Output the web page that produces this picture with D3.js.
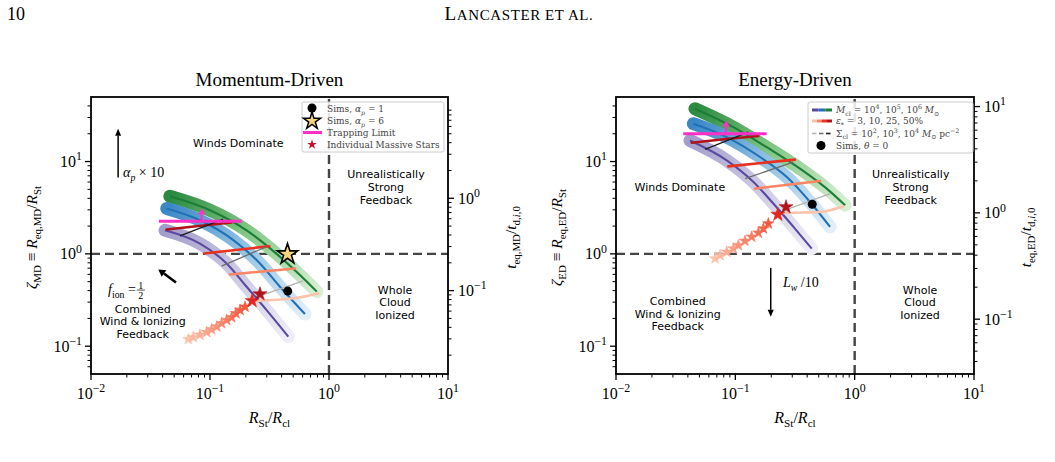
<!DOCTYPE html>
<html><head><meta charset="utf-8">
<script src="https://cdn.jsdelivr.net/npm/d3@7"></script>
<style>body{margin:0;background:#fff}svg{display:block}</style>
</head><body>
<script>
// ---------------- DATA ----------------
const xTicks = [0.01, 0.1, 1, 10];
const xTickExp = ["\u22122", "\u22121", "0", "1"];
const yTicks = [0.1, 1, 10];
const yTickExp = ["\u22121", "0", "1"];
const mdRightTicks = [0.1, 1];
const mdRightExp = ["\u22121", "0"];
const edRightTicks = [0.1, 1, 10];
const edRightExp = ["\u22121", "0", "1"];

// Momentum-driven: mass tracks (R_St/R_cl , zeta_MD)
const md_M4_x = [0.0419, 0.0824, 0.138, 0.203, 0.299, 0.455];
const md_M4_y = [1.80, 1.29, 0.787, 0.44, 0.246, 0.127];
const md_M5_x = [0.0433, 0.0824, 0.157, 0.263, 0.387, 0.628];
const md_M5_y = [3.1, 2.31, 1.41, 0.787, 0.44, 0.223];
const md_M6_x = [0.046, 0.1, 0.203, 0.363, 0.57, 0.79];
const md_M6_y = [4.2, 2.97, 1.80, 1.0, 0.59, 0.39];
// constant star-formation efficiency lines (3,10,25,50%)
const md_eps3_x = [0.246, 0.501, 0.813];   const md_eps3_y = [0.310, 0.33, 0.373];
const md_eps10_x = [0.147, 0.518];         const md_eps10_y = [0.599, 0.695];
const md_eps25_x = [0.0891, 0.315];        const md_eps25_y = [1.01, 1.21];
const md_eps50_x = [0.0432, 0.08, 0.152];  const md_eps50_y = [1.84, 2.0, 2.19];
// constant surface density lines
const md_sigA_x = [0.056, 0.129];  const md_sigA_y = [1.57, 2.38];
const md_sigB_x = [0.125, 0.296];  const md_sigB_y = [0.736, 1.19];
const md_sigC_x = [0.274, 0.608];  const md_sigC_y = [0.358, 0.511];
// trapping limit
const md_trap_x = [0.0372, 0.1845]; const md_trap_y = [2.26, 2.26];
const md_trapArrow_x = [0.0851, 0.0851]; const md_trapArrow_y = [2.26, 3.1];
// sims
const md_sim1 = [0.45, 0.395];
const md_sim6 = [0.448, 0.993];
// individual massive stars
const md_star_x = [0.0658, 0.0724, 0.0824, 0.0938, 0.103, 0.114, 0.125, 0.138, 0.152, 0.165, 0.179, 0.197, 0.226, 0.263];
const md_star_y = [0.119, 0.125, 0.133, 0.142, 0.152, 0.163, 0.177, 0.192, 0.205, 0.227, 0.246, 0.267, 0.310, 0.367];

// Energy-driven
const ed_M4_x = [0.0417, 0.0847, 0.142, 0.208, 0.307, 0.437];
const ed_M4_y = [16.9, 10.3, 6.0, 3.51, 1.96, 1.14];
const ed_M5_x = [0.0445, 0.0847, 0.161, 0.27, 0.423, 0.622];
const ed_M5_y = [25.7, 18.4, 11.2, 6.8, 3.65, 1.96];
const ed_M6_x = [0.0459, 0.0962, 0.183, 0.348, 0.583, 0.832];
const ed_M6_y = [37.3, 23.6, 14.3, 8.38, 5.09, 3.36];
const ed_eps3_x = [0.252, 0.513, 0.803];   const ed_eps3_y = [2.78, 2.84, 3.28];
const ed_eps10_x = [0.146, 0.513];         const ed_eps10_y = [5.09, 6.15];
const ed_eps25_x = [0.0873, 0.316];        const ed_eps25_y = [8.87, 10.5];
const ed_eps50_x = [0.0431, 0.08, 0.156];  const ed_eps50_y = [16.0, 17.4, 18.9];
const ed_sigA_x = [0.0557, 0.1285]; const ed_sigA_y = [13.55, 20.8];
const ed_sigB_x = [0.1205, 0.306];  const ed_sigB_y = [6.53, 9.88];
const ed_sigC_x = [0.261, 0.622];   const ed_sigC_y = [2.97, 4.5];
const ed_trap_x = [0.0366, 0.183]; const ed_trap_y = [20.0, 20.0];
const ed_trapArrow_x = [0.0836, 0.0836]; const ed_trapArrow_y = [20.0, 27.9];
const ed_sim0 = [0.441, 3.45];
const ed_star_x = [0.0676, 0.0745, 0.0847, 0.0962, 0.106, 0.1205, 0.137, 0.156, 0.172, 0.189, 0.227, 0.266];
const ed_star_y = [0.891, 0.968, 1.05, 1.14, 1.24, 1.38, 1.53, 1.69, 1.88, 2.13, 2.67, 3.22];

// ---------------- STYLE ----------------
const SERIF = "'Liberation Serif','DejaVu Serif',serif";
const LSERIF = "'DejaVu Serif',serif";
const SANS = "'DejaVu Sans',sans-serif";
const massLine = ["#5b49a0", "#2171b5", "#1c7d36"];
const massBand = [["#a29dcb", "#c9c6e1", "#efeef6"], ["#3a87c6", "#8dbfe1", "#e2eef8"], ["#2b8a40", "#7cc47f", "#d8efd3"]];
const epsCol = ["#fcc3ab", "#fb8464", "#e8321f", "#b0141a"];
const sigCol = ["#1c1c1c", "#6e6e6e", "#b3b3b3"];
const trapCol = "#ff2fc8";

const W = 1055, H = 462;
const svg = d3.select("body").append("svg").attr("width", W).attr("height", H);
svg.append("rect").attr("width", W).attr("height", H).attr("fill", "#fff");
const defs = svg.append("defs");

function mtext(g, x, y, parts, o) {
  const size = o.size, sc = o.sc || 0.7;
  const t = g.append("text").attr("x", x).attr("y", y)
    .attr("font-family", o.family || SERIF).attr("font-size", size)
    .attr("text-anchor", o.anchor || "start").attr("fill", o.fill || "#000");
  if (o.rotate) t.attr("transform", `rotate(-90,${x},${y})`);
  let cur = 0;
  parts.forEach(p => {
    const s = p[0], f = p[1] || "";
    let shift = 0, fs = size;
    if (f.includes("b")) { shift = size * 0.28; fs = size * sc; }
    if (f.includes("p")) { shift = -size * 0.42; fs = size * sc; }
    const ts = t.append("tspan").text(s).attr("font-size", fs).attr("dy", shift - cur);
    if (f.includes("i")) ts.attr("font-style", "italic");
    cur = shift;
  });
  return t;
}

function arrow(g, x1, y1, x2, y2, color, w, hl, hw) {
  const dx = x2 - x1, dy = y2 - y1, L = Math.hypot(dx, dy);
  const ux = dx / L, uy = dy / L;
  const bx = x2 - ux * hl, by = y2 - uy * hl;
  g.append("line").attr("x1", x1).attr("y1", y1).attr("x2", bx).attr("y2", by)
    .attr("stroke", color).attr("stroke-width", w);
  g.append("path").attr("d", `M${x2},${y2}L${bx - uy * hw},${by + ux * hw}L${bx + uy * hw},${by - ux * hw}Z`)
    .attr("fill", color);
}

// header
svg.append("text").attr("x", 7).attr("y", 20).attr("font-family", SERIF).attr("font-size", 18).text("10");
const hdr = svg.append("text").attr("x", 519).attr("y", 20).attr("font-family", SERIF).attr("text-anchor", "middle").attr("letter-spacing", 0.6);
hdr.append("tspan").attr("font-size", 19).text("L");
hdr.append("tspan").attr("font-size", 15).text("ANCASTER ET AL.");

const panels = [
  {
    id: "MD", left: 91, right: 448, top: 97, bottom: 374, title: "Momentum-Driven",
    rDomain: [0.0125, 12.5], rTicks: mdRightTicks, rExp: mdRightExp,
    mx: [md_M4_x, md_M5_x, md_M6_x], my: [md_M4_y, md_M5_y, md_M6_y],
    ex: [md_eps3_x, md_eps10_x, md_eps25_x, md_eps50_x], ey: [md_eps3_y, md_eps10_y, md_eps25_y, md_eps50_y],
    sx: [md_sigA_x, md_sigB_x, md_sigC_x], sy: [md_sigA_y, md_sigB_y, md_sigC_y],
    trap: [md_trap_x, md_trap_y], trapA: [md_trapArrow_x, md_trapArrow_y],
    starx: md_star_x, stary: md_star_y,
    ylab: [["\u03B6", "i"], ["MD", "b"], [" \u2261 "], ["R", "i"], ["eq,MD", "b"], ["/"], ["R", "i"], ["St", "b"]],
    rlab: [["t", "i"], ["eq,MD", "b"], ["/"], ["t", "i"], ["d,", "b"], ["i", "bi"], [",0", "b"]],
    ylabX: 37, rlabX: 516
  },
  {
    id: "ED", left: 616, right: 974, top: 97, bottom: 374, title: "Energy-Driven",
    rDomain: [0.0305, 12.3], rTicks: edRightTicks, rExp: edRightExp,
    mx: [ed_M4_x, ed_M5_x, ed_M6_x], my: [ed_M4_y, ed_M5_y, ed_M6_y],
    ex: [ed_eps3_x, ed_eps10_x, ed_eps25_x, ed_eps50_x], ey: [ed_eps3_y, ed_eps10_y, ed_eps25_y, ed_eps50_y],
    sx: [ed_sigA_x, ed_sigB_x, ed_sigC_x], sy: [ed_sigA_y, ed_sigB_y, ed_sigC_y],
    trap: [ed_trap_x, ed_trap_y], trapA: [ed_trapArrow_x, ed_trapArrow_y],
    starx: ed_star_x, stary: ed_star_y,
    ylab: [["\u03B6", "i"], ["ED", "b"], [" \u2261 "], ["R", "i"], ["eq,ED", "b"], ["/"], ["R", "i"], ["St", "b"]],
    rlab: [["t", "i"], ["eq,ED", "b"], ["/"], ["t", "i"], ["d,", "b"], ["i", "bi"], [",0", "b"]],
    ylabX: 562, rlabX: 1031
  }
];

panels.forEach((P, pi) => {
  const g = svg.append("g");
  const x = d3.scaleLog().domain([0.01, 10]).range([P.left, P.right]);
  const y = d3.scaleLog().domain([0.05, 50]).range([P.bottom, P.top]);
  const y2 = d3.scaleLog().domain(P.rDomain).range([P.bottom, P.top]);

  defs.append("clipPath").attr("id", "clip" + P.id).append("rect")
    .attr("x", P.left).attr("y", P.top).attr("width", P.right - P.left).attr("height", P.bottom - P.top);
  const pg = g.append("g").attr("clip-path", `url(#clip${P.id})`);

  // dashed regime lines
  pg.append("line").attr("x1", x(0.01)).attr("x2", x(10)).attr("y1", y(1)).attr("y2", y(1))
    .attr("stroke", "#444").attr("stroke-width", 2.4).attr("stroke-dasharray", "9,5");
  pg.append("line").attr("x1", x(1)).attr("x2", x(1)).attr("y1", y(0.05)).attr("y2", y(50))
    .attr("stroke", "#444").attr("stroke-width", 2.4).attr("stroke-dasharray", "9,5");

  const line = d3.line().x(d => x(d[0])).y(d => y(d[1])).curve(d3.curveMonotoneX);
  const pts = (xs, ys) => xs.map((v, i) => [v, ys[i]]);

  [2, 1, 0].forEach(m => {
    const d = pts(P.mx[m], P.my[m]);
    const gid = `band${P.id}${m}`;
    const gr = defs.append("linearGradient").attr("id", gid).attr("gradientUnits", "userSpaceOnUse")
      .attr("x1", x(d[0][0])).attr("y1", y(d[0][1])).attr("x2", x(d[d.length - 1][0])).attr("y2", y(d[d.length - 1][1]));
    gr.append("stop").attr("offset", 0).attr("stop-color", massBand[m][0]);
    gr.append("stop").attr("offset", 0.45).attr("stop-color", massBand[m][1]);
    gr.append("stop").attr("offset", 1).attr("stop-color", massBand[m][2]);
    pg.append("path").attr("d", line(d)).attr("fill", "none").attr("stroke", `url(#${gid})`)
      .attr("stroke-width", 13).attr("stroke-linecap", "round").attr("stroke-linejoin", "round");
  });
  [2, 1, 0].forEach(m => {
    pg.append("path").attr("d", line(pts(P.mx[m], P.my[m]))).attr("fill", "none")
      .attr("stroke", massLine[m]).attr("stroke-width", 2.1);
  });
  P.ex.forEach((xs, k) => {
    pg.append("path").attr("d", line(pts(xs, P.ey[k]))).attr("fill", "none")
      .attr("stroke", epsCol[k]).attr("stroke-width", 2.6).attr("stroke-linecap", "round");
  });
  P.sx.forEach((xs, k) => {
    pg.append("path").attr("d", line(pts(xs, P.sy[k]))).attr("fill", "none")
      .attr("stroke", sigCol[k]).attr("stroke-width", 1.3);
  });
  pg.append("path").attr("d", line(pts(P.trap[0], P.trap[1]))).attr("stroke", trapCol).attr("stroke-width", 3).attr("fill", "none");
  arrow(pg, x(P.trapA[0][0]), y(P.trapA[1][0]), x(P.trapA[0][1]), y(P.trapA[1][1]), trapCol, 2, 6, 3.5);

  const nS = P.starx.length;
  const starCol = d3.interpolateRgb("#fcc2aa", "#f2583c");
  P.starx.forEach((sx, i) => {
    let col, size;
    if (i === nS - 1) { col = "#b0141a"; size = 60; }
    else if (i === nS - 2) { col = "#e3261f"; size = 60; }
    else { col = starCol(i / (nS - 3)); size = 40; }
    pg.append("path").attr("d", d3.symbol(d3.symbolStar, size)())
      .attr("transform", `translate(${x(sx)},${y(P.stary[i])})`).attr("fill", col)
      .attr("stroke", col).attr("stroke-width", 0.6);
  });

  if (P.id === "MD") {
    pg.append("circle").attr("cx", x(md_sim1[0])).attr("cy", y(md_sim1[1])).attr("r", 4.5).attr("fill", "#000");
    pg.append("path").attr("d", d3.symbol(d3.symbolStar, 130)())
      .attr("transform", `translate(${x(md_sim6[0])},${y(md_sim6[1])})`)
      .attr("fill", "#f7d57c").attr("stroke", "#000").attr("stroke-width", 1.6);
  } else {
    pg.append("circle").attr("cx", x(ed_sim0[0])).attr("cy", y(ed_sim0[1])).attr("r", 4.5).attr("fill", "#000");
  }

  g.append("rect").attr("x", P.left).attr("y", P.top).attr("width", P.right - P.left).attr("height", P.bottom - P.top)
    .attr("fill", "none").attr("stroke", "#000").attr("stroke-width", 1.8);

  const minors = (dom) => {
    const out = [];
    for (let e = -3; e <= 2; e++) for (let k = 2; k <= 9; k++) {
      const v = k * Math.pow(10, e);
      if (v > dom[0] && v < dom[1]) out.push(v);
    }
    return out;
  };
  const tk = g.append("g").attr("stroke", "#000");
  xTicks.forEach(v => tk.append("line").attr("x1", x(v)).attr("x2", x(v)).attr("y1", P.bottom).attr("y2", P.bottom + 6).attr("stroke-width", 1.3));
  minors([0.01, 10]).forEach(v => tk.append("line").attr("x1", x(v)).attr("x2", x(v)).attr("y1", P.bottom).attr("y2", P.bottom + 3.5).attr("stroke-width", 1));
  yTicks.forEach(v => tk.append("line").attr("y1", y(v)).attr("y2", y(v)).attr("x1", P.left).attr("x2", P.left - 6).attr("stroke-width", 1.3));
  minors([0.05, 50]).forEach(v => tk.append("line").attr("y1", y(v)).attr("y2", y(v)).attr("x1", P.left).attr("x2", P.left - 3.5).attr("stroke-width", 1));
  P.rTicks.forEach(v => tk.append("line").attr("y1", y2(v)).attr("y2", y2(v)).attr("x1", P.right).attr("x2", P.right + 6).attr("stroke-width", 1.3));
  minors(P.rDomain).forEach(v => tk.append("line").attr("y1", y2(v)).attr("y2", y2(v)).attr("x1", P.right).attr("x2", P.right + 3.5).attr("stroke-width", 1));

  const to = { size: 16, sc: 0.74 };
  xTicks.forEach((v, i) => mtext(g, x(v), P.bottom + 25, [["10"], [xTickExp[i], "p"]], Object.assign({ anchor: "middle" }, to)));
  yTicks.forEach((v, i) => mtext(g, P.left - 9, y(v) + 5.5, [["10"], [yTickExp[i], "p"]], Object.assign({ anchor: "end" }, to)));
  P.rTicks.forEach((v, i) => mtext(g, P.right + 10, y2(v) + 5.5, [["10"], [P.rExp[i], "p"]], Object.assign({ anchor: "start" }, to)));

  mtext(g, (P.left + P.right) / 2, 423, [["R", "i"], ["St", "b"], ["/"], ["R", "i"], ["cl", "b"]], { size: 16, anchor: "middle" });
  mtext(g, P.ylabX, (P.top + P.bottom) / 2 + 2, P.ylab, { size: 15.5, anchor: "middle", rotate: true });
  mtext(g, P.rlabX, (P.top + P.bottom) / 2 + 2, P.rlab, { size: 15.5, anchor: "middle", rotate: true });

  g.append("text").attr("x", (P.left + P.right) / 2).attr("y", 86).attr("text-anchor", "middle")
    .attr("font-family", SERIF).attr("font-size", 19).text(P.title);

  const block = (cx, cy, lines) => {
    const t = g.append("text").attr("font-family", SANS).attr("font-size", 11).attr("text-anchor", "middle");
    lines.forEach((s, i) => t.append("tspan").attr("x", cx).attr("y", cy + i * 12.7).text(s));
  };
  if (P.id === "MD") {
    block(x(0.173), y(14.4), ["Winds Dominate"]);
    block(x(3.01), y(6.58), ["Unrealistically", "Strong", "Feedback"]);
    block(x(3.59), y(0.371), ["Whole", "Cloud", "Ionized"]);
    block(x(0.0272), y(0.231), ["Combined", "Wind & Ionizing", "Feedback"]);
    arrow(g, x(0.0169), y(6.7), x(0.0169), y(22.7), "#000", 1.5, 7, 3);
    mtext(g, x(0.01858), y(6.75), [["\u03B1", "i"], ["p", "bi"], [" \u00D7 10"]], { size: 14, family: SERIF });
    arrow(g, x(0.0518), y(0.491), x(0.0368), y(0.678), "#000", 2.5, 7, 4);
    const fx = x(0.0139), fy = y(0.367);
    const ft = mtext(g, fx, fy, [["f", "i"], ["ion", "b"], [" = "]], { size: 14 });
    const fw = ft.node().getComputedTextLength();
    const cx = fx + fw + 5;
    g.append("text").attr("x", cx).attr("y", fy - 5.5).attr("text-anchor", "middle").attr("font-family", SERIF).attr("font-size", 10).text("1");
    g.append("line").attr("x1", cx - 4).attr("x2", cx + 4).attr("y1", fy - 4).attr("y2", fy - 4).attr("stroke", "#000").attr("stroke-width", 0.7);
    g.append("text").attr("x", cx).attr("y", fy + 4.5).attr("text-anchor", "middle").attr("font-family", SERIF).attr("font-size", 10).text("2");
  } else {
    block(x(0.0343), y(4.76), ["Winds Dominate"]);
    block(x(2.95), y(6.58), ["Unrealistically", "Strong", "Feedback"]);
    block(x(3.53), y(0.371), ["Whole", "Cloud", "Ionized"]);
    block(x(0.0329), y(0.279), ["Combined", "Wind & Ionizing", "Feedback"]);
    arrow(g, x(0.198), y(0.706), x(0.198), y(0.208), "#000", 1.5, 7, 3);
    mtext(g, x(0.251), y(0.436), [["L", "i"], ["w", "bi"], [" /10"]], { size: 14 });
  }
});

// ---------------- LEGENDS ----------------
(function () {
  const g = svg.append("g");
  g.append("rect").attr("x", 302).attr("y", 102).attr("width", 142).attr("height", 50).attr("rx", 2)
    .attr("fill", "#fff").attr("fill-opacity", 0.85).attr("stroke", "#ccc");
  const tx = 327, rows = [109, 121, 132.5, 144.5];
  g.append("circle").attr("cx", 312).attr("cy", rows[0] - 1).attr("r", 4.5).attr("fill", "#000");
  g.append("path").attr("d", d3.symbol(d3.symbolStar, 90)()).attr("transform", `translate(312,${rows[1]})`)
    .attr("fill", "#f7d57c").attr("stroke", "#000").attr("stroke-width", 1.5);
  g.append("line").attr("x1", 303).attr("x2", 322).attr("y1", rows[2]).attr("y2", rows[2]).attr("stroke", trapCol).attr("stroke-width", 3);
  g.append("path").attr("d", d3.symbol(d3.symbolStar, 30)()).attr("transform", `translate(312,${rows[3]})`).attr("fill", "#c8102e");
  const o = { size: 9, fill: "#444", family: LSERIF };
  mtext(g, tx, rows[0] + 3, [["Sims, "], ["\u03B1", "i"], ["p", "bi"], [" = 1"]], o);
  mtext(g, tx, rows[1] + 3, [["Sims, "], ["\u03B1", "i"], ["p", "bi"], [" = 6"]], o);
  mtext(g, tx, rows[2] + 3, [["Trapping Limit"]], o);
  mtext(g, tx, rows[3] + 3, [["Individual Massive Stars"]], o);
})();
(function () {
  const g = svg.append("g");
  g.append("rect").attr("x", 808).attr("y", 102).attr("width", 165).attr("height", 51).attr("rx", 2)
    .attr("fill", "#fff").attr("fill-opacity", 0.85).attr("stroke", "#ccc");
  const rows = [110, 121, 133.5, 145.5], sx = 812, sw = 20, tx = 836;
  massLine.forEach((c, i) => g.append("line").attr("x1", sx + i * sw / 3).attr("x2", sx + (i + 1) * sw / 3)
    .attr("y1", rows[0]).attr("y2", rows[0]).attr("stroke", c).attr("stroke-width", 3));
  epsCol.forEach((c, i) => g.append("line").attr("x1", sx + i * sw / 4).attr("x2", sx + (i + 1) * sw / 4)
    .attr("y1", rows[1]).attr("y2", rows[1]).attr("stroke", c).attr("stroke-width", 3));
  sigCol.slice().reverse().forEach((c, i) => g.append("line").attr("x1", sx + i * 7).attr("x2", sx + i * 7 + 4.5)
    .attr("y1", rows[2]).attr("y2", rows[2]).attr("stroke", c).attr("stroke-width", 1.6));
  g.append("circle").attr("cx", 821).attr("cy", rows[3]).attr("r", 4.5).attr("fill", "#000");
  const o = { size: 9, fill: "#444", family: LSERIF };
  mtext(g, tx, rows[0] + 3, [["M", "i"], ["cl", "b"], [" = 10"], ["4", "p"], [", 10"], ["5", "p"], [", 10"], ["6", "p"], [" M", "i"], ["\u2299", "b"]], o);
  mtext(g, tx, rows[1] + 3, [["\u03B5", "i"], ["*", "b"], [" = 3, 10, 25, 50%"]], o);
  mtext(g, tx, rows[2] + 3, [["\u03A3"], ["cl", "b"], [" = 10"], ["2", "p"], [", 10"], ["3", "p"], [", 10"], ["4", "p"], [" M", "i"], ["\u2299", "b"], [" pc"], ["\u22122", "p"]], o);
  mtext(g, tx, rows[3] + 3, [["Sims, "], ["\u03B8", "i"], [" = 0"]], o);
})();
</script>
</body></html>
